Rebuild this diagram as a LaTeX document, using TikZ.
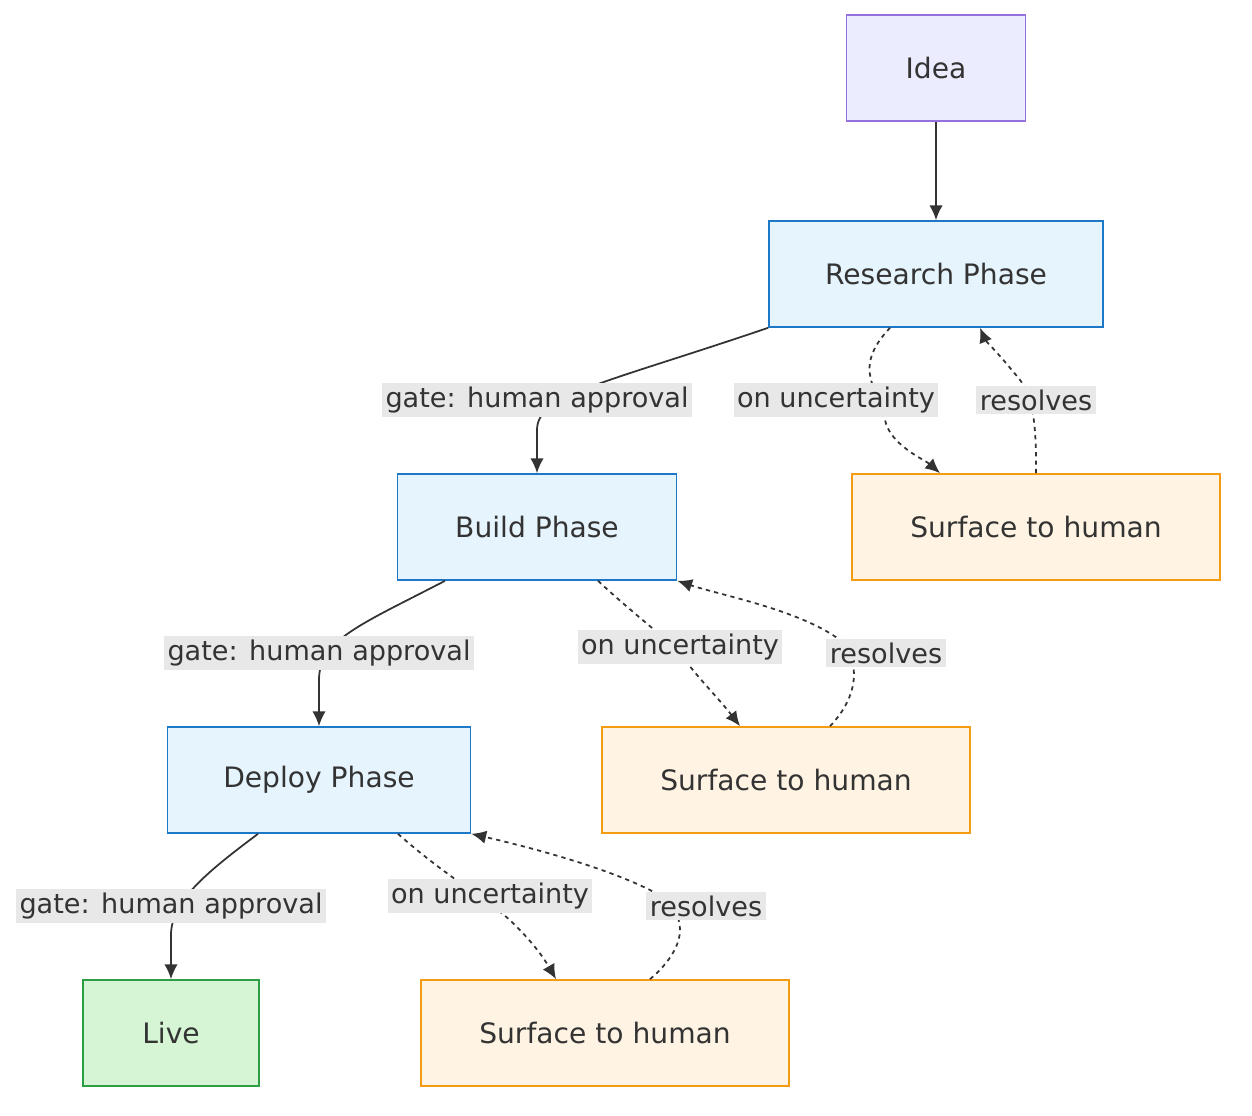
\documentclass[tikz,border=0pt]{standalone}
\usepackage{fontspec}
\setmainfont{DejaVu Sans}
\usetikzlibrary{calc,arrows.meta}
\definecolor{ideaF}{HTML}{ECECFF}\definecolor{ideaD}{HTML}{9370DB}
\definecolor{phF}{HTML}{E6F4FD}\definecolor{phD}{HTML}{1E78C8}
\definecolor{suF}{HTML}{FFF3E3}\definecolor{suD}{HTML}{F39C12}
\definecolor{liF}{HTML}{D5F5D5}\definecolor{liD}{HTML}{2E9E44}
\definecolor{lbl}{HTML}{E8E8E8}\definecolor{ink}{HTML}{333333}
\begin{document}
\begin{tikzpicture}[x=0.01cm,y=-0.01cm,
 box/.style={draw,line width=0.45pt,minimum height=1.06cm,inner sep=0,font=\fontsize{8}{9}\selectfont,text=ink},
 idea/.style={box,fill=ideaF,draw=ideaD},
 ph/.style={box,fill=phF,draw=phD},
 su/.style={box,fill=suF,draw=suD,minimum width=3.68cm},
 li/.style={box,fill=liF,draw=liD},
 lab/.style={fill=lbl,inner sep=1pt,font=\fontsize{7.7}{9}\selectfont,text=ink},
 e/.style={draw=ink,line width=0.5pt,-{Latex[length=4.2pt,width=3.8pt]}},
 d/.style={e,dash pattern=on 1.2pt off 1.2pt}]
\useasboundingbox (0,0) rectangle (1252,1116);
\node[idea,minimum width=1.79cm] (idea) at (936,68) {Idea};
\node[ph,minimum width=3.34cm] (res) at (936,274) {Research Phase};
\node[su] (s1) at (1036,527) {Surface to human};
\node[ph,minimum width=2.79cm] (bld) at (537,527) {Build Phase};
\node[su] (s2) at (786,780) {Surface to human};
\node[ph,minimum width=3.03cm] (dep) at (319,780) {Deploy Phase};
\node[li,minimum width=1.76cm] (live) at (171,1033) {Live};
\node[su] (s3) at (605,1033) {Surface to human};

\draw[e] (idea) -- (res);
% research
\draw[e] (res.south west) .. controls (600,385) and (537,395) .. (537,430) -- (bld.north);
\node[lab] (l1) at (537,400) {gate: human approval};
\draw[d] ($(res.south)+(-46,0)$) .. controls (850,370) and (880,390) .. (885,420) .. controls (890,445) and (925,460) .. ($(s1.north)+(-96,0)$);
\node[lab] (l2) at (836,400) {on uncertainty};
\draw[d] (s1.north) .. controls (1036,440) and (1036,400) .. (1020,380) .. controls (1000,355) and (985,340) .. ($(res.south)+(44,0)$);
\node[lab] (l3) at (1036,400) {resolves};
% build
\draw[e] ($(bld.south)+(-92,0)$) .. controls (360,625) and (319,640) .. (319,680) -- (dep.north);
\node[lab] (l4) at (319,653) {gate: human approval};
\draw[d] ($(bld.south)+(61,0)$) .. controls (640,620) and (670,640) .. (685,660) .. controls (700,680) and (720,700) .. ($(s2.north)+(-46,0)$);
\node[lab] (l5) at (680,647) {on uncertainty};
\draw[d] ($(s2.north)+(44,0)$) .. controls (860,695) and (860,660) .. (840,640) .. controls (800,610) and (720,595) .. (bld.south east);
\node[lab] (l6) at (886,653) {resolves};
% deploy
\draw[e] ($(dep.south)+(-61,0)$) .. controls (210,870) and (171,900) .. (171,935) -- (live.north);
\node[lab] (l7) at (171,906) {gate: human approval};
\draw[d] ($(dep.south)+(79,0)$) .. controls (450,880) and (490,900) .. (515,925) .. controls (535,945) and (545,960) .. ($(s3.north)+(-49,0)$);
\node[lab] (l8) at (490,896) {on uncertainty};
\draw[d] ($(s3.north)+(45,0)$) .. controls (690,945) and (690,910) .. (650,890) .. controls (600,865) and (520,845) .. (dep.south east);
\node[lab] (l9) at (706,906) {resolves};
\end{tikzpicture}
\end{document}
